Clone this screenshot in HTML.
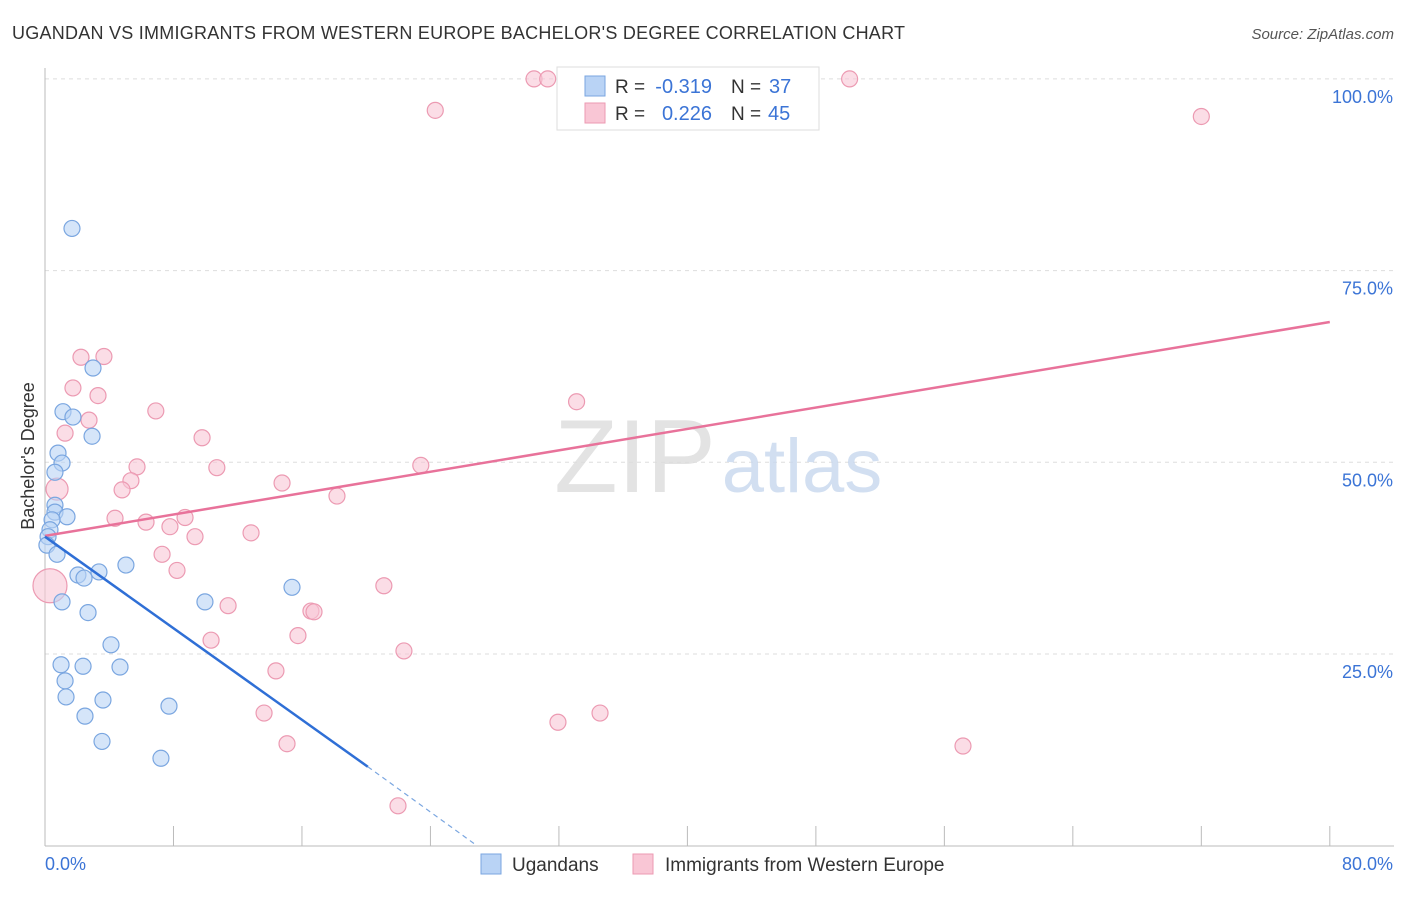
<!DOCTYPE html>
<html><head><meta charset="utf-8">
<style>
body{margin:0;background:#fff;font-family:"Liberation Sans",sans-serif;}
svg text{font-family:"Liberation Sans",sans-serif;}
</style></head>
<body>
<svg width="1406" height="892" viewBox="0 0 1406 892">
<text x="12" y="39" font-size="18" fill="#333" textLength="893">UGANDAN VS IMMIGRANTS FROM WESTERN EUROPE BACHELOR'S DEGREE CORRELATION CHART</text>
<text x="1394" y="39" font-size="15" fill="#555" text-anchor="end" font-style="italic">Source: ZipAtlas.com</text>
<g id="grid"></g>
<g id="wm">
<text x="635" y="492" font-size="104" fill="#ddd" font-family="Liberation Serif" text-anchor="middle" opacity="0.8">ZIP</text>
<text x="802" y="492" font-size="76" fill="#c8d8ee" text-anchor="middle" opacity="0.8">atlas</text>
</g>
<g id="axes"></g>
<g id="pts"></g>
<g id="lines"></g>
<text transform="translate(34,456) rotate(-90)" font-size="18" fill="#333" text-anchor="middle">Bachelor's Degree</text>
<g>
<rect x="557" y="67" width="262" height="63" fill="#fff" stroke="#ddd"/>
<rect x="585" y="76" width="20" height="20" fill="#b9d3f5" stroke="#7aa6e0"/>
<rect x="585" y="103" width="20" height="20" fill="#f9c6d5" stroke="#ec9ab2"/>
<text x="615" y="93" font-size="19" fill="#333">R =</text>
<text x="712" y="93" font-size="20" fill="#3b74d6" text-anchor="end">-0.319</text>
<text x="731" y="93" font-size="19" fill="#333">N =</text>
<text x="769" y="93" font-size="20" fill="#3b74d6">37</text>
<text x="615" y="120" font-size="19" fill="#333">R =</text>
<text x="712" y="120" font-size="20" fill="#3b74d6" text-anchor="end">0.226</text>
<text x="731" y="120" font-size="19" fill="#333">N =</text>
<text x="768" y="120" font-size="20" fill="#3b74d6">45</text>
</g>
<g>
<rect x="481" y="854" width="20" height="20" fill="#b9d3f5" stroke="#7aa6e0"/>
<text x="512" y="871" font-size="19" fill="#333">Ugandans</text>
<rect x="633" y="854" width="20" height="20" fill="#f9c6d5" stroke="#ec9ab2"/>
<text x="665" y="871" font-size="19" fill="#333">Immigrants from Western Europe</text>
</g>
</svg>
<script>
const yTicks=[25,50,75,100];
const yTickLabels=["25.0%","50.0%","75.0%","100.0%"];
const xTicks=[0,8,16,24,32,40,48,56,64,72,80];
const blueX=[1.68,2.99,1.12,1.74,2.93,0.81,1.06,0.62,0.62,0.62,1.37,0.44,0.31,0.19,0.12,0.75,5.04,3.36,2.05,2.43,15.38,1.06,9.96,2.68,4.11,1.0,2.37,4.67,1.25,1.31,3.61,7.72,2.49,3.55,7.22];
const blueY=[80.5,62.3,56.6,55.9,53.4,51.2,49.9,48.7,44.4,43.5,42.9,42.5,41.2,40.3,39.2,38.0,36.6,35.7,35.3,34.9,33.7,31.8,31.8,30.4,26.2,23.6,23.4,23.3,21.5,19.4,19.0,18.2,16.9,13.6,11.4];
const pinkX=[30.45,31.3,50.1,24.3,72.0,2.24,3.67,1.74,3.3,33.1,6.9,2.74,1.25,9.78,5.73,10.7,23.4,5.35,4.8,0.75,14.76,18.18,4.36,8.72,6.29,7.78,9.34,12.83,7.29,8.22,0.31,21.1,11.4,16.56,16.75,15.75,10.34,22.35,14.38,13.64,34.56,31.94,15.07,57.16,21.98];
const pinkY=[100,100,100,95.9,95.1,63.7,63.8,59.7,58.7,57.9,56.7,55.5,53.8,53.2,49.4,49.3,49.6,47.6,46.4,46.5,47.3,45.6,42.7,42.8,42.2,41.6,40.3,40.8,38.0,35.9,33.9,33.9,31.3,30.6,30.5,27.4,26.8,25.4,22.8,17.3,17.3,16.1,13.3,13.0,5.2];
const pinkR=[8,8,8,8,8,8,8,8,8,8,8,8,8,8,8,8,8,8,8,11,8,8,8,8,8,8,8,8,8,8,17,8,8,8,8,8,8,8,8,8,8,8,8,8,8];
const blueLine=[[0,40.3],[20.1,10.3]];
const blueDash=[[20.1,10.3],[26.9,0]];
const pinkLine=[[0,40.4],[80,68.3]];
const NS="http://www.w3.org/2000/svg";
const X=v=>45+v*16.06, Y=v=>845.7-v*7.668;
function mk(t,a,p){const e=document.createElementNS(NS,t);for(const k in a)e.setAttribute(k,a[k]);p.appendChild(e);return e;}
const grid=document.getElementById('grid'),axes=document.getElementById('axes'),pts=document.getElementById('pts'),lines=document.getElementById('lines');
yTicks.forEach((t,i)=>{
 const l=mk('line',{x1:45,x2:1394,y1:Y(t),y2:Y(t),stroke:'#ddd','stroke-dasharray':'4,4'},grid);
 
 const tx=mk('text',{x:1393,y:Y(t)+24,'font-size':18,fill:'#3b74d6','text-anchor':'end'},axes);
 tx.textContent=yTickLabels[i];
 
});
mk('line',{x1:45,x2:45,y1:68,y2:846,stroke:'#bbb'},axes);
mk('line',{x1:45,x2:1394,y1:846,y2:846,stroke:'#bbb'},axes);
xTicks.forEach(t=>{const l=mk('line',{x1:X(t),x2:X(t),y1:826,y2:846,stroke:'#bbb'},axes);});
const x0=mk('text',{x:45,y:870,'font-size':18,fill:'#3b74d6'},axes);x0.textContent='0.0%';

const x1=mk('text',{x:1393,y:870,'font-size':18,fill:'#3b74d6','text-anchor':'end'},axes);x1.textContent='80.0%';

pinkX.forEach((v,i)=>{const c=mk('circle',{cx:X(v),cy:Y(pinkY[i]),r:pinkR[i],fill:'#f9c6d5','fill-opacity':0.6,stroke:'#ec9ab2','stroke-width':1.2},pts);
 });
blueX.forEach((v,i)=>{const c=mk('circle',{cx:X(v),cy:Y(blueY[i]),r:8,fill:'#b9d3f5','fill-opacity':0.6,stroke:'#7aa6e0','stroke-width':1.2},pts);
 });
let l=mk('line',{x1:X(pinkLine[0][0]),y1:Y(pinkLine[0][1]),x2:X(pinkLine[1][0]),y2:Y(pinkLine[1][1]),stroke:'#e8729a','stroke-width':2.5},lines);

l=mk('line',{x1:X(blueLine[0][0]),y1:Y(blueLine[0][1]),x2:X(blueLine[1][0]),y2:Y(blueLine[1][1]),stroke:'#2f6fd6','stroke-width':2.5},lines);

l=mk('line',{x1:X(blueDash[0][0]),y1:Y(blueDash[0][1]),x2:X(blueDash[1][0]),y2:Y(blueDash[1][1]),stroke:'#7aa6e0','stroke-width':1.2,'stroke-dasharray':'5,4'},lines);

</script>
</body></html>
